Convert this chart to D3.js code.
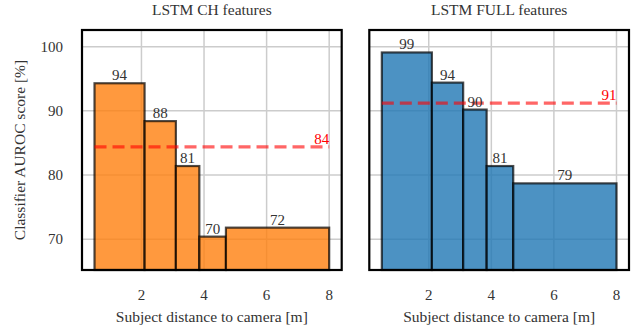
<!DOCTYPE html>
<html>
<head>
<meta charset="utf-8">
<script src="https://cdn.jsdelivr.net/npm/d3@7"></script>
<style>
  body { margin: 0; background: #fff; }
  text { font-family: "Liberation Serif", "DejaVu Serif", serif; }
</style>
</head>
<body>
<div id="chart"></div>
<script>
// distance bins (m) shared by both panels
var binEdges = [0.5, 2.1, 3.1, 3.85, 4.7, 8];

// AUROC per distance bin
var chScores = [94.3, 88.4, 81.4, 70.4, 71.8];
var fullScores = [99.1, 94.4, 90.2, 81.4, 78.7];

// overall score (dashed line)
var chMean = 84.4;
var fullMean = 91.2;

var panelTitles = ['LSTM CH features', 'LSTM FULL features'];
var xTicks = [2, 4, 6, 8];
var yTicks = [70, 80, 90, 100];

var svgWidth = 640;
var svgHeight = 332;

var plotTop = 30, plotBottom = 270;
var panels = [
    {left: 82, right: 341.7, title: panelTitles[0], scores: chScores, mean: chMean, color: '#ff7f0e', yLabels: true},
    {left: 369.3, right: 629, title: panelTitles[1], scores: fullScores, mean: fullMean, color: '#1f77b4', yLabels: false}
];

var svg = d3.select('#chart')
    .append('svg')
    .attr('width', svgWidth)
    .attr('height', svgHeight);

var yScale = d3.scaleLinear()
    .domain([65.2, 102.6])
    .range([plotBottom, plotTop]);

var fmt = d3.format('.0f');

panels.forEach(function(p){
    var xScale = d3.scaleLinear()
        .domain([0.1, 8.4])
        .range([p.left, p.right]);

    var g = svg.append('g');

    // gridlines
    g.selectAll('.vgrid')
        .data(xTicks)
        .enter()
        .append('line')
        .attr('x1', d => xScale(d))
        .attr('x2', d => xScale(d))
        .attr('y1', plotTop)
        .attr('y2', plotBottom)
        .attr('stroke', '#cccccc')
        .attr('stroke-width', 1.5);

    g.selectAll('.hgrid')
        .data(yTicks)
        .enter()
        .append('line')
        .attr('x1', p.left)
        .attr('x2', p.right)
        .attr('y1', d => yScale(d))
        .attr('y2', d => yScale(d))
        .attr('stroke', '#cccccc')
        .attr('stroke-width', 1.5);

    // bars, one per distance bin
    var bins = p.scores.map((s, i) => ({x0: binEdges[i], x1: binEdges[i + 1], v: s}));

    g.selectAll('.bar')
        .data(bins)
        .enter()
        .append('rect')
        .attr('x', d => xScale(d.x0))
        .attr('width', d => xScale(d.x1) - xScale(d.x0))
        .attr('y', d => yScale(d.v))
        .attr('height', d => plotBottom - yScale(d.v))
        .attr('fill', p.color)
        .attr('fill-opacity', 0.8)
        .attr('stroke', '#000')
        .attr('stroke-opacity', 0.7)
        .attr('stroke-width', 2.2);

    // mean dashed line
    g.append('line')
        .attr('x1', xScale(binEdges[0]))
        .attr('x2', xScale(binEdges[binEdges.length - 1]))
        .attr('y1', yScale(p.mean))
        .attr('y2', yScale(p.mean))
        .attr('stroke', '#ff0000')
        .attr('stroke-opacity', 0.6)
        .attr('stroke-width', 3.2)
        .attr('stroke-dasharray', '12,6');

    g.append('text')
        .attr('x', xScale(binEdges[binEdges.length - 1]))
        .attr('y', yScale(p.mean) - 3)
        .attr('text-anchor', 'end')
        .attr('font-size', '15px')
        .attr('fill', '#ff0000')
        .text(fmt(p.mean));

    // bar value labels
    g.selectAll('.barLabel')
        .data(bins)
        .enter()
        .append('text')
        .attr('x', d => xScale((d.x0 + d.x1) / 2))
        .attr('y', d => yScale(d.v) - 3)
        .attr('text-anchor', 'middle')
        .attr('font-size', '15px')
        .attr('fill', '#333')
        .text(d => fmt(d.v));

    // frame
    g.append('rect')
        .attr('x', p.left)
        .attr('y', plotTop)
        .attr('width', p.right - p.left)
        .attr('height', plotBottom - plotTop)
        .attr('fill', 'none')
        .attr('stroke', '#000')
        .attr('stroke-width', 2.2);

    // x tick labels
    g.selectAll('.xtick')
        .data(xTicks)
        .enter()
        .append('text')
        .attr('x', d => xScale(d))
        .attr('y', 300)
        .attr('text-anchor', 'middle')
        .attr('font-size', '15px')
        .attr('fill', '#333')
        .text(d => d);

    if (p.yLabels){
        g.selectAll('.ytick')
            .data(yTicks)
            .enter()
            .append('text')
            .attr('x', 63)
            .attr('y', d => yScale(d) + 5)
            .attr('text-anchor', 'end')
            .attr('font-size', '15px')
            .attr('fill', '#333')
            .text(d => d);

        g.append('text')
            .attr('transform', `translate(25,${(plotTop + plotBottom) / 2}) rotate(-90)`)
            .attr('text-anchor', 'middle')
            .attr('font-size', '15.5px')
            .attr('fill', '#333')
            .text('Classifier AUROC score [%]');
    }

    // titles and x label
    g.append('text')
        .attr('x', (p.left + p.right) / 2)
        .attr('y', 15)
        .attr('text-anchor', 'middle')
        .attr('font-size', '15.5px')
        .attr('fill', '#333')
        .text(p.title);

    g.append('text')
        .attr('x', (p.left + p.right) / 2)
        .attr('y', 322)
        .attr('text-anchor', 'middle')
        .attr('font-size', '15.5px')
        .attr('fill', '#333')
        .text('Subject distance to camera [m]');
});
</script>
</body>
</html>
